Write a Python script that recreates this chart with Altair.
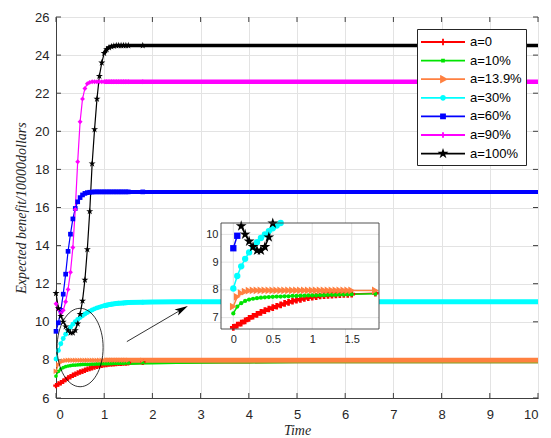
import altair as alt
import pandas as pd

SERIES = ["a=0", "a=10%", "a=13.9%", "a=30%", "a=60%", "a=90%", "a=100%"]
COLORS = ["#FF0000", "#00E400", "#FF8040", "#00FFFF", "#0000FF", "#FF00FF", "#000000"]

T_FINE = [0.00, 0.05, 0.10, 0.15, 0.20, 0.25, 0.30, 0.35, 0.40, 0.45,
          0.50, 0.55, 0.60, 0.65, 0.70, 0.75, 0.80, 0.85, 0.90, 0.95,
          1.00, 1.05, 1.10, 1.15, 1.20, 1.25, 1.30, 1.35, 1.40, 1.45,
          1.50]
T_COARSE = [1.8, 2.0, 2.5, 3.0, 3.5, 4.0, 4.5, 5.0, 5.5, 6.0,
            6.5, 7.0, 7.5, 8.0, 8.5, 9.0, 9.5, 10.0]

A0_FINE = [6.65, 6.73, 6.80, 6.88, 6.97, 7.05, 7.12, 7.19, 7.25, 7.31,
           7.36, 7.41, 7.46, 7.51, 7.55, 7.59, 7.63, 7.66, 7.69, 7.72,
           7.74, 7.76, 7.78, 7.79, 7.80, 7.81, 7.82, 7.83, 7.84, 7.84,
           7.85]
A0_COARSE = [7.88, 7.89, 7.90, 7.91, 7.92, 7.92, 7.93, 7.93, 7.93, 7.93,
             7.93, 7.93, 7.93, 7.93, 7.93, 7.93, 7.93, 7.93]

A10_FINE = [7.15, 7.40, 7.52, 7.60, 7.65, 7.68, 7.70, 7.72, 7.73, 7.74,
            7.75, 7.76, 7.76, 7.77, 7.77, 7.78, 7.78, 7.79, 7.79, 7.80,
            7.80, 7.80, 7.81, 7.81, 7.82, 7.82, 7.82, 7.83, 7.83, 7.84,
            7.84]
A10_COARSE = [7.86, 7.87, 7.89, 7.90, 7.91, 7.92, 7.92, 7.93, 7.93, 7.93,
              7.93, 7.93, 7.93, 7.93, 7.93, 7.93, 7.93, 7.93]

A139_FINE = [7.40, 7.75, 7.88, 7.94, 7.97, 7.98, 7.98, 7.98, 7.98, 7.98,
             7.98, 7.98, 7.98, 7.98, 7.98, 7.98, 7.98, 7.98, 7.98, 7.98,
             7.98, 7.98, 7.98, 7.98, 7.98, 7.98, 7.98, 7.98, 7.98, 7.98,
             7.98]
A139_COARSE = [7.98, 7.98, 7.98, 7.98, 7.98, 7.98, 7.98, 7.98, 7.98, 7.98,
               7.98, 7.98, 7.98, 7.98, 7.98, 7.98, 7.98, 7.98]

A30_FINE = [8.05, 8.50, 8.85, 9.12, 9.35, 9.55, 9.72, 9.87, 10.00, 10.12,
            10.22, 10.32, 10.41, 10.49, 10.56, 10.62, 10.68, 10.73, 10.77, 10.81,
            10.84, 10.87, 10.90, 10.92, 10.94, 10.96, 10.97, 10.98, 10.99, 11.00,
            11.01]
A30_COARSE = [11.03, 11.04, 11.05, 11.05, 11.05, 11.05, 11.05, 11.05, 11.05, 11.05,
              11.05, 11.05, 11.05, 11.05, 11.05, 11.05, 11.05, 11.05]

A60_FINE = [9.50, 9.95, 10.60, 11.45, 12.50, 13.70, 14.60, 15.40, 15.95, 16.30,
            16.52, 16.66, 16.74, 16.78, 16.80, 16.81, 16.82, 16.82, 16.82, 16.82,
            16.82, 16.82, 16.82, 16.82, 16.82, 16.82, 16.82, 16.82, 16.82, 16.82,
            16.82]
A60_COARSE = [16.82, 16.82, 16.82, 16.82, 16.82, 16.82, 16.82, 16.82, 16.82, 16.82,
              16.82, 16.82, 16.82, 16.82, 16.82, 16.82, 16.82, 16.82]

A90_FINE = [10.95, 10.65, 10.45, 10.60, 11.05, 11.70, 12.60, 13.90, 15.90, 18.40,
            20.50, 21.70, 22.25, 22.50, 22.57, 22.60, 22.60, 22.60, 22.60, 22.60,
            22.60, 22.60, 22.60, 22.60, 22.60, 22.60, 22.60, 22.60, 22.60, 22.60,
            22.60]
A90_COARSE = [22.60, 22.60, 22.60, 22.60, 22.60, 22.60, 22.60, 22.60, 22.60, 22.60,
              22.60, 22.60, 22.60, 22.60, 22.60, 22.60, 22.60, 22.60]

A100_FINE = [11.50, 10.70, 10.30, 10.00, 9.75, 9.55, 9.42, 9.42, 9.55, 9.90,
             10.40, 11.10, 12.20, 13.80, 15.80, 18.30, 20.10, 21.70, 22.90, 23.60,
             24.10, 24.30, 24.40, 24.45, 24.48, 24.50, 24.50, 24.50, 24.50, 24.50,
             24.50]
A100_COARSE = [24.50, 24.50, 24.50, 24.50, 24.50, 24.50, 24.50, 24.50, 24.50, 24.50,
               24.50, 24.50, 24.50, 24.50, 24.50, 24.50, 24.50, 24.50]

FINES = [A0_FINE, A10_FINE, A139_FINE, A30_FINE, A60_FINE, A90_FINE, A100_FINE]
COARSES = [A0_COARSE, A10_COARSE, A139_COARSE, A30_COARSE, A60_COARSE, A90_COARSE, A100_COARSE]

X_TICKS = [0, 1, 2, 3, 4, 5, 6, 7, 8, 9, 10]
Y_TICKS = [6, 8, 10, 12, 14, 16, 18, 20, 22, 24, 26]
X_DOMAIN = [0, 10]
Y_DOMAIN = [6, 26]

INSET_X_TICKS = [0, 0.5, 1, 1.5]
INSET_Y_TICKS = [7, 8, 9, 10]
INSET_X_DOMAIN = [-0.156, 1.846]
INSET_Y_DOMAIN = [6.59, 10.41]

ELLIPSE_T = [0.50]
ELLIPSE_V = [8.65]
ARROW_T = [1.47, 2.61]
ARROW_V = [8.96, 10.65]

# marker keys (separate domain so the marker scales never join the legend)
MK = ["mk " + s for s in SERIES]

# ---------------- data table ----------------
rows = []
for name, key, fine, coarse in zip(SERIES, MK, FINES, COARSES):
    assert len(fine) == len(T_FINE) and len(coarse) == len(T_COARSE), name
    for t, v in zip(T_FINE + T_COARSE, fine + coarse):
        rows.append({"series": name, "mk": key, "t": t, "v": v})
df = pd.DataFrame(rows)

# ---------------- styles ----------------
W, H = 482, 381
STAR = ("M0,-1L0.223,-0.307L0.951,-0.309L0.361,0.117L0.588,0.809L0,0.38"
        "L-0.588,0.809L-0.361,0.117L-0.951,-0.309L-0.223,-0.307Z")
SHAPES = ["cross", "circle", "triangle-right", "circle", "square", "diamond", STAR]
MAIN_SIZES = [30, 14, 30, 24, 22, 24, 55]
INSET_SIZES = [45, 18, 60, 40, 40, 40, 130]
BAND_W = [4, 4, 5, 5, 4, 4.5, 3.5]

LEG_LINE = "M-2.75,0L2.75,0"
LEG_MARK = [
    "M-0.4,0L0.4,0M0,-0.4L0,0.4",
    "M-0.12,-0.12L0.12,-0.12L0.12,0.12L-0.12,0.12Z",
    "M-0.25,-0.35L0.4,0L-0.25,0.35Z",
    "M-0.25,0A0.25,0.25 0 1,0 0.25,0A0.25,0.25 0 1,0 -0.25,0Z",
    "M-0.25,-0.25L0.25,-0.25L0.25,0.25L-0.25,0.25Z",
    "M-0.35,0L0.35,0M0,-0.35L0,0.35",
    "M0,-0.35L0.08,-0.11L0.33,-0.11L0.13,0.04L0.21,0.28L0,0.13L-0.21,0.28L-0.13,0.04L-0.33,-0.11L-0.08,-0.11Z",
]
LEG_WIDTH = [2, 2, 2, 2, 2, 2, 1]
shape_expr = "'" + LEG_LINE + LEG_MARK[-1] + "'"
for name, mk in reversed(list(zip(SERIES[:-1], LEG_MARK[:-1]))):
    shape_expr = "datum.value === '" + name + "' ? '" + LEG_LINE + mk + "' : " + shape_expr

AXIS_BASE = dict(
    labelFont="Liberation Sans", labelFontSize=13, labelColor="#262626",
    titleFont="Liberation Serif", titleFontStyle="italic", titleFontWeight="normal",
    titleFontSize=14, titleColor="#262626",
    domainColor="#404040", gridColor="#e3e3e3", ticks=False,
)
ax_x = alt.Axis(values=X_TICKS, format="d", title="Time", grid=True,
                labelPadding=10, titlePadding=2, **AXIS_BASE)
ax_y = alt.Axis(values=Y_TICKS, format="d", title="Expected benefit/10000dollars",
                grid=True, labelPadding=7, titlePadding=6, **AXIS_BASE)
sx = alt.Scale(domain=X_DOMAIN, nice=False, zero=False)
sy = alt.Scale(domain=Y_DOMAIN, nice=False, zero=False)


def X(f):
    return alt.X(f, type="quantitative", scale=sx, axis=ax_x)


def Y(f):
    return alt.Y(f, type="quantitative", scale=sy, axis=ax_y)


legend = alt.Legend(
    title=None, orient="none", legendX=361, legendY=12, direction="vertical",
    symbolType=alt.ExprRef(expr=shape_expr), symbolSize=256, symbolStrokeWidth=1.8,
    symbolFillColor=alt.ExprRef(expr="scale('color', datum.value)"),
    symbolOffset=13, labelOffset=18,
    labelFont="Liberation Sans", labelFontSize=13, labelColor="#000000",
    padding=4, rowPadding=2.6, fillColor="#ffffff", strokeColor="#262626",
    labelLimit=200,
)

color_sc = alt.Scale(domain=SERIES, range=COLORS)
mk_color = alt.Scale(domain=MK, range=COLORS)
mk_shape = alt.Scale(domain=MK, range=SHAPES)

lines = alt.Chart(df).mark_line(strokeWidth=1.2).encode(
    x=X("t"), y=Y("v"),
    color=alt.Color("series:N", scale=color_sc, legend=legend),
)
band = alt.Chart(df).transform_filter("datum.t >= 1.0").mark_line().encode(
    x=X("t"), y=Y("v"),
    stroke=alt.Stroke("mk:N", scale=mk_color, legend=None),
    strokeWidth=alt.StrokeWidth("mk:N", scale=alt.Scale(type="ordinal", domain=MK, range=BAND_W), legend=None),
)
markers = alt.Chart(df).transform_filter("datum.t <= 1.8").mark_point(
    filled=True, opacity=1, strokeWidth=0).encode(
    x=X("t"), y=Y("v"),
    fill=alt.Fill("mk:N", scale=mk_color, legend=None),
    shape=alt.Shape("mk:N", scale=mk_shape, legend=None),
    size=alt.Size("mk:N", scale=alt.Scale(type="ordinal", domain=MK, range=MAIN_SIZES), legend=None),
)

# inward ticks on the four sides of the box
xt_df = pd.DataFrame({"tick": X_TICKS, "lo": [Y_DOMAIN[0]] * len(X_TICKS),
                      "hi": [Y_DOMAIN[1]] * len(X_TICKS)})
yt_df = pd.DataFrame({"tick": Y_TICKS, "lo": [X_DOMAIN[0]] * len(Y_TICKS),
                      "hi": [X_DOMAIN[1]] * len(Y_TICKS)})
tick_style = dict(color="#404040", strokeWidth=1)
tick_b = alt.Chart(xt_df).mark_rule(y2Offset=-5, **tick_style).encode(
    x=X("tick"), y=Y("lo"), y2="lo")
tick_t = alt.Chart(xt_df).mark_rule(y2Offset=5, **tick_style).encode(
    x=X("tick"), y=Y("hi"), y2="hi")
tick_l = alt.Chart(yt_df).mark_rule(x2Offset=5, **tick_style).encode(
    y=Y("tick"), x=X("lo"), x2="lo")
tick_r = alt.Chart(yt_df).mark_rule(x2Offset=-5, **tick_style).encode(
    y=Y("tick"), x=X("hi"), x2="hi")

ell_df = pd.DataFrame({"t": ELLIPSE_T, "v": ELLIPSE_V})
ellipse = alt.Chart(ell_df).mark_point(
    shape="M0,-1A0.587,1 0 1,1 0,1A0.587,1 0 1,1 0,-1Z", size=6150,
    filled=False, stroke="#000000", strokeWidth=0.8, opacity=1,
).encode(x=X("t"), y=Y("v"))

arr_df = pd.DataFrame({"t": ARROW_T, "v": ARROW_V})
arrow_line = alt.Chart(arr_df).mark_line(color="#000000", strokeWidth=0.8).encode(
    x=X("t"), y=Y("v"))
arrow_head = alt.Chart(arr_df).transform_filter(
    "datum.t == %s" % ARROW_T[1]).mark_point(
    shape="M0,-1L0.5,0.9L0,0.45L-0.5,0.9Z", size=196, angle=60,
    filled=True, fill="#000000", strokeWidth=0, opacity=1,
).encode(x=X("t"), y=Y("v"))

main = alt.layer(tick_b, tick_t, tick_l, tick_r, lines, band, markers,
                 ellipse, arrow_line, arrow_head)

# ---------------- inset ----------------
SX_IN = alt.Scale(domain=INSET_X_DOMAIN, range=[165, 323], nice=False, zero=False)
SY_IN = alt.Scale(domain=INSET_Y_DOMAIN, range=[312, 206], nice=False, zero=False)
IN_AXIS = dict(labelFont="Liberation Sans", labelFontSize=11, labelColor="#262626",
               title=None, grid=False, domain=False, ticks=False)
ax_xi = alt.Axis(orient="bottom", offset=-69, values=INSET_X_TICKS, format="~g",
                 labelPadding=4, **IN_AXIS)
ax_yi = alt.Axis(orient="left", offset=-165, values=INSET_Y_TICKS, format="d",
                 labelPadding=3, **IN_AXIS)


def XI(f):
    return alt.X(f, type="quantitative", scale=SX_IN, axis=ax_xi)


def YI(f):
    return alt.Y(f, type="quantitative", scale=SY_IN, axis=ax_yi)


box_df = pd.DataFrame({"x0": [INSET_X_DOMAIN[0]], "x1": [INSET_X_DOMAIN[1]],
                       "y0": [INSET_Y_DOMAIN[0]], "y1": [INSET_Y_DOMAIN[1]]})
inset_bg = alt.Chart(box_df).mark_rect(fill="#ffffff", strokeWidth=0).encode(
    x=XI("x0"), x2="x1", y=YI("y0"), y2="y1")
inset_frame = alt.Chart(box_df).mark_rect(
    fillOpacity=0, stroke="#404040", strokeWidth=0.9).encode(
    x=XI("x0"), x2="x1", y=YI("y0"), y2="y1")

gx_df = pd.DataFrame({"tick": INSET_X_TICKS,
                      "lo": [INSET_Y_DOMAIN[0]] * len(INSET_X_TICKS),
                      "hi": [INSET_Y_DOMAIN[1]] * len(INSET_X_TICKS)})
gy_df = pd.DataFrame({"tick": INSET_Y_TICKS,
                      "lo": [INSET_X_DOMAIN[0]] * len(INSET_Y_TICKS),
                      "hi": [INSET_X_DOMAIN[1]] * len(INSET_Y_TICKS)})
inset_gx = alt.Chart(gx_df).mark_rule(color="#e3e3e3", strokeWidth=1).encode(
    x=XI("tick"), y=YI("lo"), y2="hi")
inset_gy = alt.Chart(gy_df).mark_rule(color="#e3e3e3", strokeWidth=1).encode(
    y=YI("tick"), x=XI("lo"), x2="hi")

in_filter = ("datum.t <= %s && datum.v >= %s && datum.v <= %s"
             % (INSET_X_DOMAIN[1], INSET_Y_DOMAIN[0], INSET_Y_DOMAIN[1]))
inset_lines = alt.Chart(df).transform_filter(in_filter).mark_line(strokeWidth=1.5).encode(
    x=XI("t"), y=YI("v"),
    stroke=alt.Stroke("mk:N", scale=mk_color, legend=None),
)
inset_markers = alt.Chart(df).transform_filter(in_filter).mark_point(
    filled=True, opacity=1, strokeWidth=0).encode(
    x=XI("t"), y=YI("v"),
    fill=alt.Fill("mk:N", scale=mk_color, legend=None),
    shape=alt.Shape("mk:N", scale=mk_shape, legend=None),
    size=alt.Size("mk:N", scale=alt.Scale(type="ordinal", domain=MK, range=INSET_SIZES), legend=None),
)

inset = alt.layer(inset_bg, inset_gx, inset_gy, inset_lines, inset_markers, inset_frame)

chart = alt.layer(main, inset).resolve_scale(
    x="independent", y="independent", size="independent"
).properties(
    width=W, height=H,
    padding={"left": 56, "top": 17, "right": 13, "bottom": 40},
    autosize=alt.AutoSizeParams(type="none"),
    background="#ffffff",
).configure_view(stroke="#404040", strokeWidth=1)

chart.save("out.html", embed_options={"renderer": "svg", "actions": False})
